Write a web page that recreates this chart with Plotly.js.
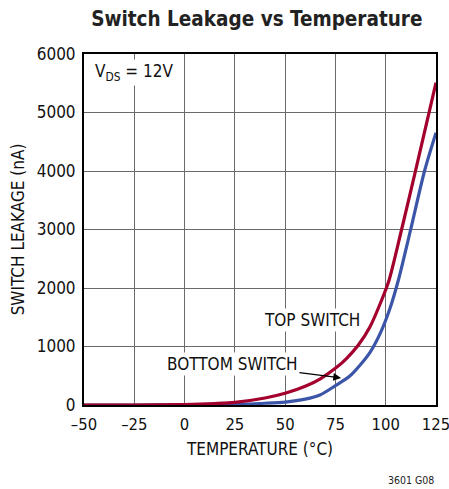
<!DOCTYPE html>
<html>
<head>
<meta charset="utf-8">
<script src="https://cdn.plot.ly/plotly-3.0.1.min.js"></script>
<style>html,body{margin:0;padding:0;background:#fff;}#chart{width:449px;height:489px;}</style>
</head>
<body>
<div id="chart"></div>
<script>
// Data
var topTemp = [-50, -25, 0, 15, 25, 40, 50, 60, 67.3, 75.6, 80.6, 86.4, 92.2, 98, 101.7, 107.9, 114.9, 125];
var topLeak = [0, 0, 8, 25, 45, 120, 200, 320, 444, 644, 798, 1026, 1339, 1795, 2137, 3000, 4017, 5510];
var botTemp = [-50, -25, 0, 25, 40, 50, 60, 67.3, 75, 82, 87.2, 92.2, 97.2, 102.1, 106.3, 112.4, 119.3, 125];
var botLeak = [0, 0, 3, 12, 30, 50, 100, 171, 330, 490, 680, 900, 1220, 1650, 2137, 3000, 4000, 4655];
var xTickVals = [-50, -25, 0, 25, 50, 75, 100, 125];
var xTickText = ['\u201350', '\u201325', '0', '25', '50', '75', '100', '125'];
var yTickVals = [0, 1000, 2000, 3000, 4000, 5000, 6000];

var FONT = '"Liberation Sans Narrow", "DejaVu Sans Condensed", Arial, sans-serif';

var traces = [
  {x: botTemp, y: botLeak, mode: 'lines', line: {color: '#3b55a8', width: 3.2, shape: 'spline', smoothing: 0.8}, hoverinfo: 'none'},
  {x: topTemp, y: topLeak, mode: 'lines', line: {color: '#a3002d', width: 3.2, shape: 'spline', smoothing: 0.8}, hoverinfo: 'none'}
];

var layout = {
  width: 449, height: 489,
  margin: {l: 84, r: 13, t: 54, b: 84},
  paper_bgcolor: '#fff', plot_bgcolor: '#fff',
  showlegend: false,
  font: {family: FONT, color: '#111', size: 16},
  title: {text: '<b>Switch Leakage vs Temperature</b>', font: {family: FONT, size: 20.5, color: '#222'}, x: 0.572, xanchor: 'center', y: 0.962, yanchor: 'middle'},
  xaxis: {
    range: [-50, 125], tickvals: xTickVals, ticktext: xTickText,
    showgrid: true, gridcolor: '#6a6a6a', gridwidth: 1,
    showline: true, linecolor: '#000', linewidth: 2, mirror: true,
    zeroline: false, ticks: '', fixedrange: true,
    ticklabeloverflow: 'allow', ticklabelstandoff: 3,
    tickfont: {family: FONT, size: 16.5, color: '#111'},
    title: {text: 'TEMPERATURE (°C)', font: {family: FONT, size: 17, color: '#111'}, standoff: 10}
  },
  yaxis: {
    range: [0, 6000], tickvals: yTickVals,
    showgrid: true, gridcolor: '#6a6a6a', gridwidth: 1,
    showline: true, linecolor: '#000', linewidth: 2, mirror: true,
    zeroline: false, ticks: '', fixedrange: true,
    ticklabelstandoff: 3,
    tickfont: {family: FONT, size: 17, color: '#111'},
    title: {text: 'SWITCH LEAKAGE (nA)', font: {family: FONT, size: 17, color: '#111'}, standoff: 8}
  },
  annotations: [
    {xref: 'paper', yref: 'paper', x: 0.025, y: 0.948, xanchor: 'left', yanchor: 'middle', text: 'V<sub>DS</sub> = 12V', showarrow: false, bgcolor: '#fff', font: {family: FONT, size: 17, color: '#111'}},
    {x: 63.4, y: 1450, text: 'TOP SWITCH', showarrow: false, bgcolor: '#fff', font: {family: FONT, size: 17, color: '#111'}},
    {x: 77.8, y: 462, ax: 23.8, ay: 700, axref: 'x', ayref: 'y', text: 'BOTTOM SWITCH', showarrow: true, arrowhead: 2, arrowsize: 1.3, arrowwidth: 1.2, arrowcolor: '#000', bgcolor: '#fff', font: {family: FONT, size: 17, color: '#111'}},
    {xref: 'paper', yref: 'paper', x: 1.0, y: -0.215, xanchor: 'right', yanchor: 'middle', text: '3601 G08', showarrow: false, font: {family: FONT, size: 10.5, color: '#222'}}
  ]
};

Plotly.newPlot('chart', traces, layout, {displayModeBar: false, staticPlot: true});
</script>
</body>
</html>
